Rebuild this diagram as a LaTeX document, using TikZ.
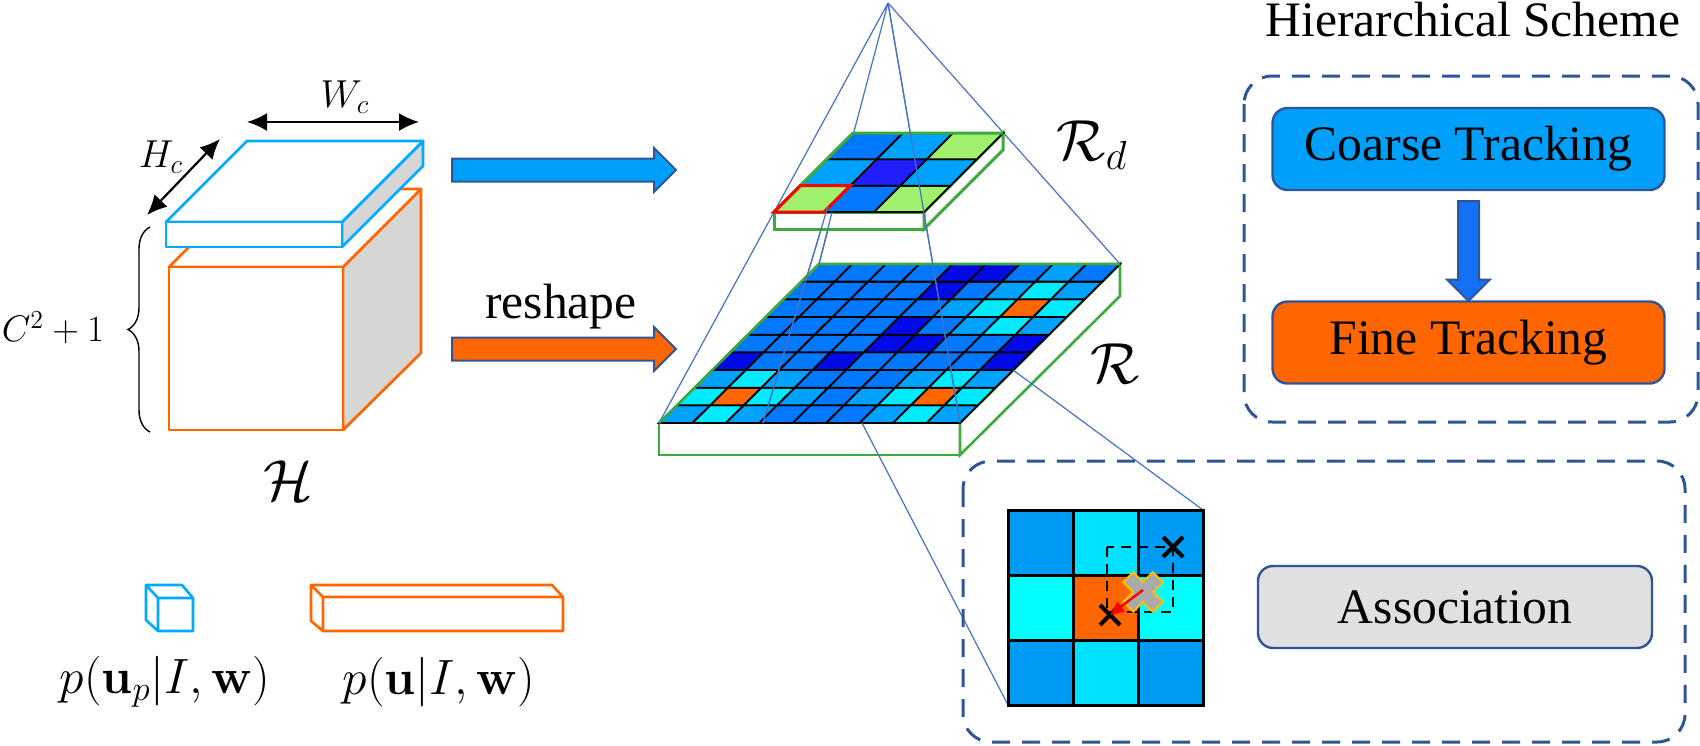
\RequirePackage{fix-cm}
\documentclass[tikz,border=0pt]{standalone}
\usepackage[no-math]{fontspec}
\setmainfont{Liberation Serif}
\usepackage{tikz}
\usetikzlibrary{positioning,arrows.meta,calc,shapes.arrows,decorations.pathreplacing}
\definecolor{skyb}{RGB}{0,170,255}
\definecolor{orng}{RGB}{255,102,0}
\definecolor{navy}{RGB}{47,85,151}
\definecolor{sgray}{RGB}{214,214,214}
\definecolor{arrb}{RGB}{0,160,250}
\definecolor{downb}{RGB}{20,112,245}
\definecolor{assoc}{RGB}{224,224,224}
\definecolor{gA}{RGB}{0,120,255}
\definecolor{gB}{RGB}{0,162,255}
\definecolor{gC}{RGB}{0,10,230}
\definecolor{gE}{RGB}{0,235,255}
\definecolor{lgr}{RGB}{160,240,110}
\definecolor{dpb}{RGB}{30,30,255}
\definecolor{slabg}{RGB}{60,170,60}
\definecolor{linkb}{RGB}{68,114,196}
\definecolor{zb}{RGB}{0,155,245}
\definecolor{zc}{RGB}{0,225,255}
\definecolor{ze}{RGB}{0,255,255}
\definecolor{gold}{RGB}{255,190,0}
\definecolor{xgray}{RGB}{170,170,170}

\begin{document}
\begin{tikzpicture}[x=0.5pt,y=-0.5pt,font=\fontsize{24.8}{30}\selectfont,
  blk/.style={line width=1.4pt,line join=round},
  dimarr/.style={{Latex[length=10pt,width=9pt]}-{Latex[length=10pt,width=9pt]},line width=1.1pt},
  barrow/.style={single arrow,draw=navy,line width=1pt,inner sep=0pt,text height=10.5pt,text depth=0pt,
    single arrow head extend=5.25pt,single arrow tip angle=90,minimum height=112pt},
  box/.style={draw=navy,line width=1.2pt,rounded corners=7.5pt,minimum width=196pt,minimum height=41pt},
  dbox/.style={draw=navy,line width=1.5pt,dash pattern=on 9pt off 6pt,rounded corners=14pt},
  link/.style={draw=linkb,line width=0.6pt},
  cell/.style={draw=black,line width=0.9pt},
  smath/.style={font=\fontsize{19.5}{22}\selectfont},
  bmath/.style={font=\fontsize{29}{34}\selectfont}]
  \useasboundingbox (0,0) rectangle (1700,745);

  % feature block H
  \filldraw[blk,draw=orng,fill=sgray] (343,267) -- (421,189) -- (421,353) -- (343,430) -- cycle;
  \filldraw[blk,draw=orng,fill=white] (169,267) -- (247,189) -- (421,189) -- (343,267) -- cycle;
  \filldraw[blk,draw=orng,fill=white] (169,267) rectangle (343,430);
  \filldraw[blk,draw=skyb,fill=sgray] (342,222) -- (423,141) -- (423,166) -- (342,247) -- cycle;
  \filldraw[blk,draw=skyb,fill=white] (166,222) -- (247,141) -- (423,141) -- (342,222) -- cycle;
  \filldraw[blk,draw=skyb,fill=white] (166,222) rectangle (342,247);
  \coordinate (wl) at (247,122); \coordinate (wr) at (419,122);
  \coordinate (hu) at (220,139); \coordinate (hd) at (147,215);
  \draw[dimarr] (wl) -- (wr);
  \draw[dimarr] (hu) -- (hd);
  \node[smath] (lblW) at (345,97) {$W_c$};
  \node[smath] (lblHc) at (161,157) {$H_c$};
  \coordinate (bb) at (150,432); \coordinate (bt) at (150,227);
  \draw[line width=0.7pt,decorate,decoration={brace,amplitude=11pt}] (bb) -- (bt);
  \node[font=\fontsize{18.5}{22}\selectfont] (lblC) at (53,328) {$C^2+1$};
  \node[bmath] (lblH) at (288,481) {$\mathcal{H}$};

  % legend
  \draw[blk,draw=skyb,line width=1.3pt] (158,598) rectangle (193,631)
    (158,598) -- (146,585) -- (182,585) -- (193,598) (146,585) -- (146,620) -- (158,631);
  \draw[blk,draw=orng,line width=1.3pt] (323,597) rectangle (563,631)
    (323,597) -- (311,585) -- (552,585) -- (563,597) (311,585) -- (311,621) -- (323,631);
  \node (lblp) at (165,682) {$p(\mathbf{u}_p|I,\mathbf{w})$};
  \node (lblu) at (439,682) {$p(\mathbf{u}|I,\mathbf{w})$};

  % block arrows
  \node[barrow,fill=arrb,anchor=tail] (toRd) at (451,170) {};
  \node[barrow,fill=orng,anchor=tail] (toR) at (451,349) {};
  \node (lblrs) at (561,307) {reshape};

  % response map R
  \coordinate (apex) at (888,3);
  \coordinate (Rfl) at (659,423); \coordinate (Rfr) at (960,423);
  \coordinate (Rbl) at (819,264); \coordinate (Rbr) at (1120,264);
  \filldraw[fill=white,draw=slabg,line width=1.3pt] (659,423) rectangle (960,455);
  \filldraw[fill=white,draw=slabg,line width=1.3pt] (Rfr) -- (Rbr) -- (1120,296) -- (960,455) -- cycle;
  \foreach \j/\cl in {0/{gB,gE,gB,gA,gA,gA,gB,gE,gB},1/{gE,orng,gE,gB,gA,gB,gE,orng,gE},
      2/{gB,gE,gB,gA,gA,gA,gB,gE,gB},3/{gC,gA,gA,gC,gA,gA,gA,gA,gC},
      4/{gA,gA,gA,gA,gC,gC,gA,gA,gC},5/{gA,gA,gA,gA,gC,gA,gB,gE,gB},
      6/{gA,gA,gA,gA,gA,gB,gE,orng,gE},7/{gA,gA,gA,gA,gC,gA,gB,gE,gB},
      8/{gA,gA,gA,gA,gC,gC,gA,gB,gA}}{
    \foreach \cc [count=\i from 0] in \cl {
      \filldraw[\cc,cell] (659+\i*33.44+\j*17.78,423-\j*17.67) -- ++(33.44,0) -- ++(17.78,-17.67) -- ++(-33.44,0) -- cycle;
    }
  }
  \draw[slabg,line width=1.3pt] (Rfl) -- (Rbl) -- (Rbr);
  \node[bmath] (lblR) at (1115,364) {$\mathcal{R}$};

  % pyramid links
  \coordinate (cellp) at (828,206); \coordinate (Rp) at (763,423);
  \coordinate (zA) at (862,423); \coordinate (zB) at (1013,370);
  \coordinate (zbl) at (1008,705); \coordinate (ztr) at (1203,510);
  \draw[link] (apex) -- (Rfl) (apex) -- (Rbl) (apex) -- (Rbr) (apex) -- (Rfr);
  \draw[link] (cellp) -- (Rp) (zA) -- (zbl) (zB) -- (ztr);

  % downsampled map R_d
  \coordinate (dfl) at (774,212); \coordinate (dfr) at (924,212);
  \coordinate (dbl) at (853,133); \coordinate (dbr) at (1003,133);
  \filldraw[fill=white,draw=slabg,line width=1.5pt] (774,212) rectangle (924,229);
  \filldraw[fill=white,draw=slabg,line width=1.5pt] (dfr) -- (dbr) -- (1003,150) -- (924,229) -- cycle;
  \foreach \j/\cl in {0/{lgr,gA,lgr},1/{gB,dpb,gB},2/{gA,gB,lgr}}{
    \foreach \cc [count=\i from 0] in \cl {
      \filldraw[\cc,cell] (774+\i*50+\j*26.33,212-\j*26.33) -- ++(50,0) -- ++(26.33,-26.33) -- ++(-50,0) -- cycle;
    }
  }
  \draw[slabg,line width=1.5pt] (dfl) -- (dbl) -- (dbr);
  \draw[red,line width=1.5pt] (dfl) -- ++(50,0) -- ++(26.33,-26.33) -- ++(-50,0) -- cycle;
  \coordinate (dcut) at (832,212);
  \draw[link] (apex) -- (Rfr) (cellp) -- (Rp) (dcut) -- (Rbl);
  \node[bmath] (lblRd) at (1092,145) {$\mathcal{R}_d$};

  % hierarchical scheme
  \node (title) at (1473,20) {Hierarchical Scheme};
  \draw[dbox] (1244,76) rectangle (1698,422);
  \node[box,fill=arrb] (coarse) at (1468.5,149) {Coarse Tracking};
  \node[box,fill=orng] (fine) at (1468.5,342.5) {Fine Tracking};
  \node[barrow,fill=downb,shape border rotate=270,minimum height=50pt,text height=0pt,text width=9.5pt,
    single arrow head extend=5.5pt] (cf) at ($(coarse.south)!0.5!(fine.north)$) {};

  % association
  \draw[dbox] (963,461) rectangle (1685,742);
  \foreach \r/\cl in {0/{zb,zc,zb},1/{ze,orng,ze},2/{zb,zc,zb}}{
    \foreach \cc [count=\i from 0] in \cl {
      \filldraw[\cc,draw=black,line width=1.5pt] (1008+\i*65,510+\r*65) rectangle ++(65,65);
    }
  }
  \draw[line width=1pt,dash pattern=on 5pt off 3.5pt] (1107,547) rectangle (1173,612);
  \coordinate (xa) at (1173,547); \coordinate (xb) at (1110,615); \coordinate (xg) at (1143,592);
  \draw[line width=2pt] ($(xa)+(-10,-10)$) -- ($(xa)+(10,10)$) ($(xa)+(-10,10)$) -- ($(xa)+(10,-10)$);
  \draw[line width=2pt] ($(xb)+(-10,-10)$) -- ($(xb)+(10,10)$) ($(xb)+(-10,10)$) -- ($(xb)+(10,-10)$);
  \draw[gold,line width=8pt] ($(xg)+(-15.5,-15.5)$) -- ($(xg)+(15.5,15.5)$) ($(xg)+(-15.5,15.5)$) -- ($(xg)+(15.5,-15.5)$);
  \draw[xgray,line width=6pt] ($(xg)+(-14,-14)$) -- ($(xg)+(14,14)$) ($(xg)+(-14,14)$) -- ($(xg)+(14,-14)$);
  \draw[red,line width=1.2pt,-{Triangle[length=7pt,width=6pt]}] ($(xg)+(0,-2)$) -- (xb);
  \node[box,fill=assoc,minimum width=197pt] (assn) at (1455,607) {Association};
\end{tikzpicture}
\end{document}
